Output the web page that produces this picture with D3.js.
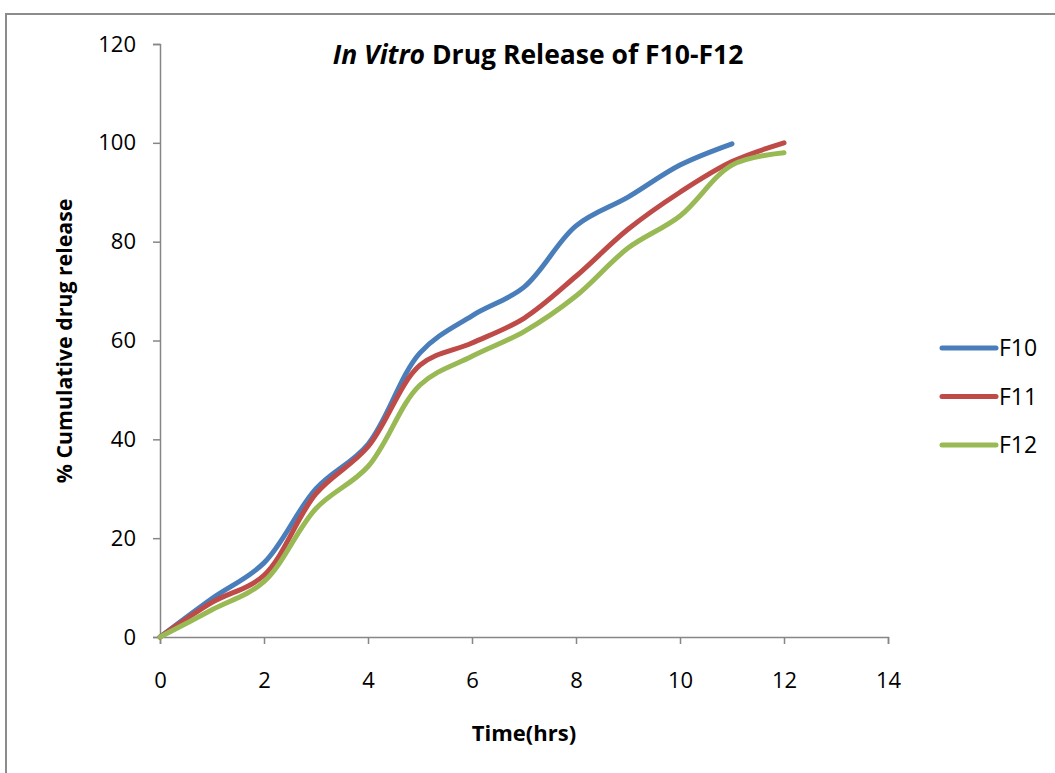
<!DOCTYPE html>
<html>
<head>
<meta charset="utf-8">
<script src="https://cdn.jsdelivr.net/npm/d3@7"></script>
<style>
  body { margin: 0; background: #fff; }
  text { font-family: "Open Sans", sans-serif; fill: #000; }
</style>
</head>
<body>
<svg id="chart" width="1055" height="773"></svg>
<script>
// data
var seriesNames = ["F10", "F11", "F12"];
var seriesColors = ["#4a7ebb", "#be4b48", "#98b954"];
var timeF10 = [0, 1, 2, 3, 4, 5, 6, 7, 8, 9, 10, 11];
var releaseF10 = [0, 7.8, 15, 30, 39, 57.5, 65, 70.8, 83.2, 89, 95.5, 99.8];
var timeF11 = [0, 1, 2, 3, 4, 5, 6, 7, 8, 9, 10, 11, 12];
var releaseF11 = [0, 7, 12.5, 29, 38.5, 55, 59.5, 64.5, 73, 82.5, 90, 96.2, 100];
var timeF12 = [0, 1, 2, 3, 4, 5, 6, 7, 8, 9, 10, 11, 12];
var releaseF12 = [0, 5.5, 11.2, 26, 34.5, 51, 56.8, 61.8, 69, 78.7, 85.2, 95.5, 98];
var xTicks = [0, 2, 4, 6, 8, 10, 12, 14];
var yTicks = [0, 20, 40, 60, 80, 100, 120];

var series = [
  { name: seriesNames[0], color: seriesColors[0], pts: timeF10.map((t, i) => [t, releaseF10[i]]) },
  { name: seriesNames[1], color: seriesColors[1], pts: timeF11.map((t, i) => [t, releaseF11[i]]) },
  { name: seriesNames[2], color: seriesColors[2], pts: timeF12.map((t, i) => [t, releaseF12[i]]) }
];

var svg = d3.select("#chart");

// outer chart frame (cut off on the right and bottom like the original)
svg.append("path")
  .attr("d", "M6,780 L6,14 L1060,14")
  .attr("fill", "none")
  .attr("stroke", "#8c8c8c")
  .attr("stroke-width", 2);

var xScale = d3.scaleLinear().domain([0, 14]).range([160, 888]);
var yScale = d3.scaleLinear().domain([0, 120]).range([637, 44]);

// y axis
var yAxis = svg.append("g")
  .attr("transform", "translate(160,0)")
  .call(d3.axisLeft(yScale).tickValues(yTicks).tickSize(7).tickPadding(17));
// x axis
var xAxis = svg.append("g")
  .attr("transform", "translate(0,637)")
  .call(d3.axisBottom(xScale).tickValues(xTicks).tickSize(7).tickPadding(28));

[xAxis, yAxis].forEach(function(ax) {
  ax.attr("font-family", "Open Sans, sans-serif").attr("font-size", 22);
  ax.select(".domain").attr("stroke", "#868686").attr("stroke-width", 1.5);
  ax.selectAll(".tick line").attr("stroke", "#868686").attr("stroke-width", 1.5);
  ax.selectAll(".tick text").attr("fill", "#000");
});

// lines, smoothed like the spreadsheet chart
var line = d3.line()
  .x(d => xScale(d[0]))
  .y(d => yScale(d[1]))
  .curve(d3.curveCatmullRom.alpha(0.5));

svg.append("g").selectAll("path")
  .data(series)
  .enter().append("path")
    .attr("d", d => line(d.pts))
    .attr("fill", "none")
    .attr("stroke", d => d.color)
    .attr("stroke-width", 5)
    .attr("stroke-linecap", "round")
    .attr("stroke-linejoin", "round");

// title
var title = svg.append("text")
  .attr("x", 538)
  .attr("y", 64)
  .attr("text-anchor", "middle")
  .style("font-size", "26.5px")
  .style("font-weight", "bold");
title.append("tspan").style("font-style", "italic").text("In Vitro");
title.append("tspan").text(" Drug Release of F10-F12");

// axis titles
svg.append("text")
  .attr("transform", "translate(72,341) rotate(-90)")
  .attr("text-anchor", "middle")
  .style("font-size", "21.3px")
  .style("font-weight", "bold")
  .text("% Cumulative drug release");

svg.append("text")
  .attr("x", 524)
  .attr("y", 741)
  .attr("text-anchor", "middle")
  .style("font-size", "22px")
  .style("font-weight", "bold")
  .text("Time(hrs)");

// legend
var legend = svg.append("g").selectAll("g")
  .data(series)
  .enter().append("g")
    .attr("transform", (d, i) => "translate(942," + (348 + i * 48.5) + ")");
legend.append("line")
  .attr("x1", 0).attr("x2", 54)
  .attr("stroke", d => d.color)
  .attr("stroke-width", 5)
  .attr("stroke-linecap", "round");
legend.append("text")
  .attr("x", 57)
  .attr("y", 8)
  .style("font-size", "23px")
  .text(d => d.name);
</script>
</body>
</html>
